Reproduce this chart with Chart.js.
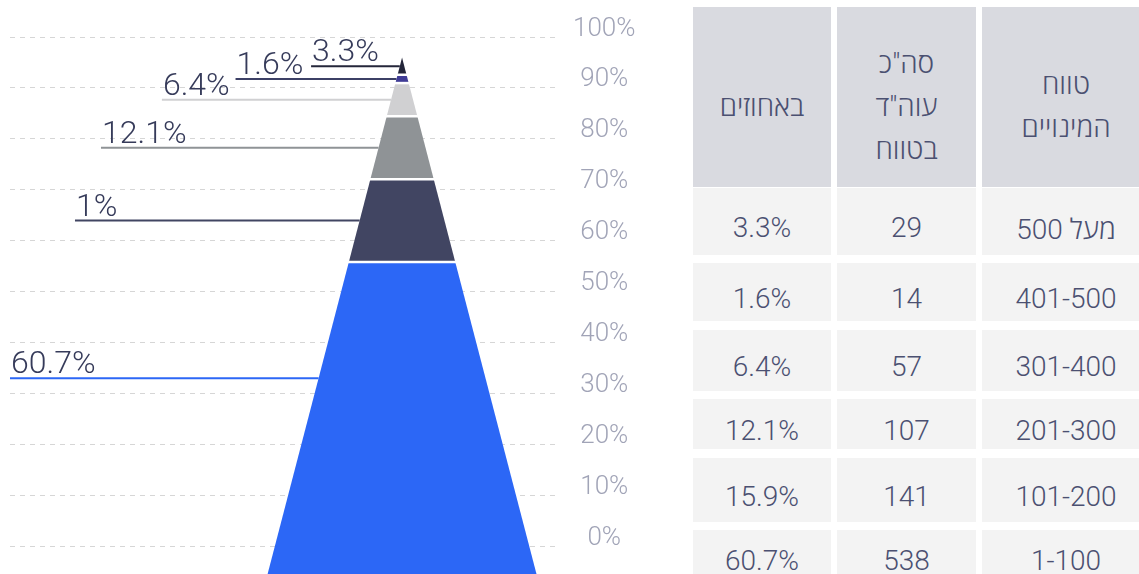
<!DOCTYPE html>
<html lang="he">
<head>
<meta charset="utf-8">
<script src="https://cdn.jsdelivr.net/npm/chart.js@4.4.0/dist/chart.umd.min.js"></script>
<style>
  html, body { margin: 0; padding: 0; background: #fff; width: 1139px; height: 574px; overflow: hidden; }
  #chartBox { position: absolute; left: 0; top: 0; width: 680px; height: 574px; }
  .cell {
    position: absolute; box-sizing: border-box;
    display: flex; align-items: center; justify-content: center; text-align: center;
    font-family: Roboto, "Open Sans", "Liberation Sans", sans-serif; font-weight: 300;
    font-size: 28px; color: #4b5071; direction: rtl;
  }
  .head { background: #d9dae0; line-height: 43px; padding-top: 18px; }
  .body { background: #f3f3f3; padding-top: 12px; }
</style>
</head>
<body>
<div id="chartBox"><canvas id="pyramidChart"></canvas></div>
<div id="tableBox"></div>
<script>
    // slices from the bottom of the pyramid up
    const ranges = ['1-100', '101-200', '201-300', '301-400', '401-500', 'מעל 500'];
    const counts = [538, 141, 107, 57, 14, 29];
    const shares = [60.7, 15.9, 12.1, 6.4, 1.6, 3.3];
    const sliceLabels = ['60.7%', '1%', '12.1%', '6.4%', '1.6%', '3.3%'];
    const headers = ['באחוזים', 'סה"כ<br>עוה"ד<br>בטווח', 'טווח<br>המינויים'];

    const sliceColors = ['#2c67f6', '#414562', '#8f9396', '#d0d0d2', '#403c96', '#24263a'];
    const leaderColors = ['#2c67f6', '#414562', '#8f9396', '#d0d0d2', '#3c4066', '#24263a'];
    // where each label line starts, in x units of the pyramid
    const labelStartX = [-144.8, -120.8, -111.2, -88.7, -61.5, -33.6];
    const labelFloor = 16;

    // TABLE
    const colLeft = [693, 837, 982];
    const colWidth = [138, 139, 168];
    const rowTop = [188, 263, 330, 399, 458, 530];
    const rowHeight = [67, 58, 61, 50, 64, 48];
    const box = document.getElementById('tableBox');

    function addCell(cls, html, left, top, width, height) {
      const d = document.createElement('div');
      d.className = 'cell ' + cls;
      d.style.left = left + 'px';
      d.style.top = top + 'px';
      d.style.width = width + 'px';
      d.style.height = height + 'px';
      d.innerHTML = html;
      box.appendChild(d);
    }

    headers.forEach((h, c) => addCell('head', h, colLeft[c], 7, colWidth[c], 180));
    rowTop.forEach((top, r) => {
      const i = shares.length - 1 - r;
      const vals = [shares[i] + '%', counts[i], ranges[i]];
      vals.forEach((v, c) => addCell('body', v, colLeft[c], top, colWidth[c], rowHeight[r]));
    });

    // PYRAMID
    const cum = [0];
    shares.forEach(s => cum.push(Math.round((cum[cum.length - 1] + s) * 10) / 10));
    const half = c => (100 - c) / 2;

    // white gaps between slices, drawn on top
    const gapSets = cum.slice(1, -1).map(c => ({
      data: [{x: -half(c) - 1, y: c}, {x: half(c) + 1, y: c}],
      showLine: true,
      fill: false,
      borderColor: '#ffffff',
      borderWidth: 2.5,
      pointRadius: 0,
      yAxisID: 'py',
      clip: false
    }));

    const segmentSets = shares.map((s, i) => {
      const lo = cum[i], hi = cum[i + 1];
      return {
        data: [
          {x: -half(lo), y: lo}, {x: half(lo), y: lo},
          {x: half(hi), y: hi}, {x: -half(hi), y: hi},
          {x: -half(lo), y: lo}
        ],
        showLine: true,
        fill: 'shape',
        backgroundColor: sliceColors[i],
        borderWidth: 0,
        pointRadius: 0,
        yAxisID: 'py',
        clip: false
      };
    });

    const leaderSets = shares.map((s, i) => {
      const ly = (Math.max(cum[i], labelFloor) + cum[i + 1]) / 2;
      return {
        data: [{x: labelStartX[i], y: ly}, {x: -half(ly), y: ly}],
        showLine: true,
        fill: false,
        borderColor: leaderColors[i],
        borderWidth: 2,
        pointRadius: 0,
        yAxisID: 'py',
        clip: false
      };
    });

    const leaderStart = gapSets.length + segmentSets.length;

    const leaderText = {
      id: 'leaderText',
      afterDatasetsDraw(chart) {
        const {ctx} = chart;
        ctx.save();
        ctx.font = '300 32px Roboto';
        ctx.fillStyle = '#363b5a';
        ctx.textAlign = 'left';
        ctx.textBaseline = 'alphabetic';
        sliceLabels.forEach((txt, i) => {
          const pt = chart.getDatasetMeta(leaderStart + i).data[0];
          ctx.fillText(txt, pt.x + 1, pt.y - 5);
        });
        ctx.restore();
      }
    };

    new Chart('pyramidChart', {
      type: 'scatter',
      data: { datasets: gapSets.concat(segmentSets, leaderSets) },
      options: {
        animation: false,
        responsive: true,
        maintainAspectRatio: false,
        events: [],
        layout: { padding: { left: 10, top: 37, right: 0, bottom: 0 } },
        plugins: { legend: { display: false }, tooltip: { enabled: false } },
        scales: {
          x: { type: 'linear', display: false, bounds: 'data', min: -144.8, max: 57.6 },
          py: { type: 'linear', display: false, bounds: 'data', min: 0.69, max: 103.96 },
          y: {
            type: 'linear',
            position: 'right',
            min: -5.3,
            max: 100,
            afterFit(scale) {
              scale.width = 122;
              scale.paddingTop = 0;
              scale.paddingBottom = 0;
            },
            grid: { color: '#d6d6d6', drawTicks: false },
            border: { display: false, dash: [5, 5] },
            ticks: {
              stepSize: 10,
              includeBounds: false,
              padding: 15,
              crossAlign: 'center',
              labelOffset: -8,
              color: '#a1a4b7',
              font: { family: 'Roboto', size: 26, weight: '300' },
              callback: v => v + '%'
            }
          }
        }
      },
      plugins: [leaderText]
    });
</script>
</body>
</html>
